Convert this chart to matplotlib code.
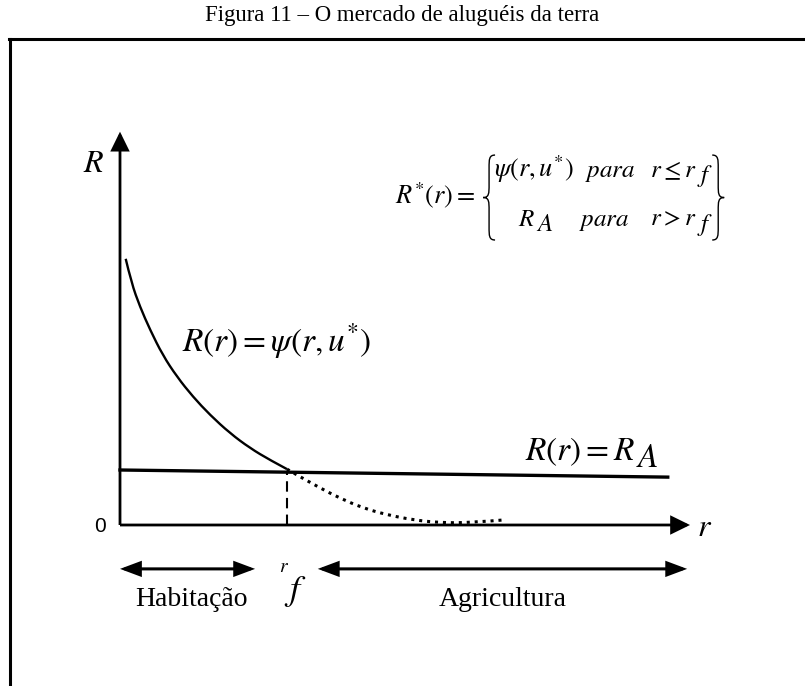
import numpy as np
import matplotlib.pyplot as plt
from matplotlib.patches import FancyArrowPatch, PathPatch
from matplotlib.path import Path
from matplotlib.lines import Line2D

plt.rcParams["mathtext.fontset"] = "stix"

# curva de aluguel de lance psi(r, u*) - trecho habitacional (sólido)
R_BID_R = [0.10, 0.20, 0.35, 0.53, 0.75, 1.00, 1.28, 1.58, 1.93, 2.28, 2.63, 2.93]
R_BID_V = [4.67, 4.25, 3.83, 3.42, 2.98, 2.60, 2.25, 1.93, 1.61, 1.35, 1.14, 0.98]
# prolongamento da curva além de r_f (pontilhado)
R_EXT_R = [2.93, 3.10, 3.51, 3.86, 4.26, 4.68, 5.14, 5.61, 6.14, 6.75]
R_EXT_V = [0.98, 0.88, 0.65, 0.47, 0.30, 0.18, 0.09, 0.04, 0.04, 0.09]
# aluguel agrícola R_A
R_AGR_R = [0.0, 9.61]
R_AGR_V = [0.965, 0.84]
R_F = 2.93
R_MAX = 10.0
V_MAX = 6.9

SERIF = "Liberation Serif"


def smooth_path(xs, ys):
    # curva suave: pontos lidos como controles de Bézier quadráticas
    pts = list(zip(xs, ys))
    verts = [pts[0]]
    codes = [Path.MOVETO]
    for i in range(1, len(pts) - 1):
        mid = ((pts[i][0] + pts[i + 1][0]) / 2, (pts[i][1] + pts[i + 1][1]) / 2)
        if i == len(pts) - 2:
            mid = pts[-1]
        verts += [pts[i], mid]
        codes += [Path.CURVE3, Path.CURVE3]
    return Path(verts, codes)


def brace(ax, xl, xr, y0, y1, left=True):
    # chave desenhada com curvas de Bézier
    h = y1 - y0
    ym = (y0 + y1) / 2
    xm = (xl + xr) / 2
    a, b = (xr, xl) if left else (xl, xr)
    verts = [(a, y1), (xm, y1), (xm, y1 - 0.05 * h), (xm, y1 - 0.15 * h),
             (xm, ym + 0.15 * h),
             (xm, ym + 0.05 * h), (xm, ym), (b, ym),
             (xm, ym), (xm, ym - 0.05 * h), (xm, ym - 0.15 * h),
             (xm, y0 + 0.15 * h),
             (xm, y0 + 0.05 * h), (xm, y0), (a, y0)]
    codes = [Path.MOVETO, Path.CURVE4, Path.CURVE4, Path.CURVE4, Path.LINETO,
             Path.CURVE4, Path.CURVE4, Path.CURVE4,
             Path.CURVE4, Path.CURVE4, Path.CURVE4, Path.LINETO,
             Path.CURVE4, Path.CURVE4, Path.CURVE4]
    ax.add_patch(PathPatch(Path(verts, codes), fill=False, lw=1.0, color="k"))


def arrow(ax, p0, p1, style, hl, hw, lw):
    ax.add_patch(FancyArrowPatch(p0, p1, arrowstyle=f"{style},head_length={hl},head_width={hw}",
                                 lw=lw, color="k", shrinkA=0, shrinkB=0,
                                 joinstyle="miter", capstyle="butt"))


def sub_text(ax, x, y, base, sub, size, drop):
    # índice do mesmo tamanho do texto, só um pouco abaixo (estilo Equation Editor)
    t = ax.text(x, y, base, fontsize=size, ha="left", va="baseline")
    ax.annotate(sub, xy=(1, y), xycoords=(t, "data"), xytext=(0.5, -drop),
                textcoords="offset points", fontsize=size, ha="left", va="baseline")


def main():
    fig = plt.figure(figsize=(8.05, 6.86), dpi=100)
    ax = fig.add_axes([0, 0, 1, 1])
    ax.set_xlim(-120 / 57, 685 / 57)
    ax.set_ylim(-161 / 57, 525 / 57)
    ax.axis("off")

    # moldura (só topo e lado esquerdo aparecem)
    fig.add_artist(Line2D([9 / 805, 1.0], [1 - 39 / 686] * 2, lw=2.2, color="k"))
    fig.add_artist(Line2D([10 / 805] * 2, [0, 1 - 39 / 686], lw=2.2, color="k"))
    fig.text(0.5, 1 - 16 / 686, "Figura 11 – O mercado de aluguéis da terra",
             family=SERIF, fontsize=16.4, ha="center", va="center")

    # eixos
    arrow(ax, (0, 0), (R_MAX, 0), "-|>", 11, 5.4, 2.0)
    arrow(ax, (0, 0), (0, V_MAX), "-|>", 11, 5.4, 2.0)
    ax.text(-0.47, 6.35, r"$R$", fontsize=23, ha="center", va="center")
    ax.text(10.26, -0.04, r"$r$", fontsize=23, ha="center", va="center")
    ax.text(-0.35, -0.02, "0", family="Liberation Sans", fontsize=15, ha="center", va="center")

    # curvas
    ax.add_patch(PathPatch(smooth_path(R_BID_R, R_BID_V), fill=False, lw=1.7,
                           color="k", capstyle="butt"))
    ax.add_patch(PathPatch(smooth_path(R_EXT_R, R_EXT_V), fill=False, lw=2.2,
                           color="k", linestyle=(0, (1, 1.6)), capstyle="butt"))
    ax.plot(R_AGR_R, R_AGR_V, color="k", lw=2.4)
    ax.plot([R_F, R_F], [0, np.interp(R_F, R_AGR_R, R_AGR_V)], color="k", lw=1.5,
            linestyle=(0, (5, 3)))

    ax.text(1.09, 3.04, r"$R(r) = \psi(r,u^{*})$", fontsize=24, ha="left", va="baseline")
    sub_text(ax, 7.1, 1.14, r"$R(r) = R$", r"$A$", 24, 5)

    # definição de R*(r)
    ax.text(4.82, 5.65, r"$R^{*}(r) = $", fontsize=19, ha="left", va="baseline")
    brace(ax, 6.37, 6.58, 5.0, 6.49, left=True)
    brace(ax, 10.39, 10.60, 5.0, 6.49, left=False)
    ax.text(6.56, 6.11, r"$\psi(r,u^{*})$", fontsize=19, ha="left", va="baseline")
    ax.text(8.15, 6.11, r"$para$", fontsize=18, ha="left", va="baseline")
    sub_text(ax, 9.30, 6.11, r"$r \leq r$", r"$f$", 18, 4)
    sub_text(ax, 6.98, 5.25, r"$R$", r"$A$", 18, 4)
    ax.text(8.05, 5.25, r"$para$", fontsize=18, ha="left", va="baseline")
    sub_text(ax, 9.30, 5.25, r"$r > r$", r"$f$", 18, 4)

    # zonas de uso do solo
    arrow(ax, (0.0, -0.77), (2.37, -0.77), "<|-|>", 11.5, 4.3, 2.2)
    arrow(ax, (3.47, -0.77), (9.95, -0.77), "<|-|>", 11.5, 4.3, 2.2)
    ax.text(2.88, -0.72, r"$r$", fontsize=14, ha="center", va="center")
    ax.text(3.07, -1.17, r"$f$", fontsize=26, ha="center", va="center")
    ax.text(1.26, -1.30, "Habitação", family=SERIF, fontsize=20, ha="center", va="center")
    ax.text(6.72, -1.30, "Agricultura", family=SERIF, fontsize=20, ha="center", va="center")

    fig.savefig("out.png", dpi=100)


if __name__ == "__main__":
    main()
